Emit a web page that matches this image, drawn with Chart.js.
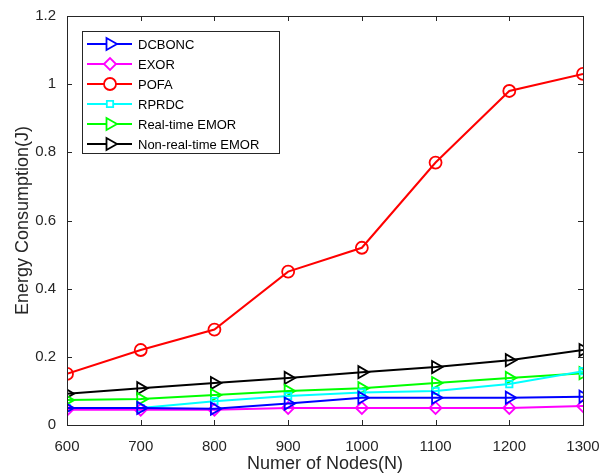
<!DOCTYPE html>
<html>
<head>
<meta charset="utf-8">
<script src="https://cdn.jsdelivr.net/npm/chart.js@4.4.1/dist/chart.umd.min.js"></script>
<style>
  html, body { margin: 0; padding: 0; background: #fff; }
  #wrap { position: relative; width: 601px; height: 475px; }
</style>
</head>
<body>
<div id="wrap"><canvas id="line-chart"></canvas></div>
<script>
const nodes = [600, 700, 800, 900, 1000, 1100, 1200, 1300];
const dcbonc = [0.05, 0.05, 0.048, 0.063, 0.08, 0.08, 0.08, 0.083];
const exor = [0.045, 0.045, 0.045, 0.05, 0.05, 0.05, 0.05, 0.056];
const pofa = [0.15, 0.22, 0.28, 0.45, 0.52, 0.77, 0.98, 1.03];
const rprdc = [0.05, 0.05, 0.07, 0.085, 0.095, 0.1, 0.12, 0.158];
const realTime = [0.073, 0.076, 0.088, 0.1, 0.108, 0.123, 0.138, 0.152];
const nonRealTime = [0.092, 0.108, 0.123, 0.138, 0.155, 0.17, 0.19, 0.22];
const yTicks = [0, 0.2, 0.4, 0.6, 0.8, 1, 1.2];

const FONT = 'Liberation Sans, Arial, sans-serif';
const AXIS = '#262626';

function series(label, values, color, style, radius, rotation) {
  return {
    label: label,
    data: nodes.map((n, i) => ({ x: n, y: values[i] })),
    borderColor: color,
    backgroundColor: color,
    borderWidth: 2,
    pointStyle: style,
    pointRadius: radius,
    pointRotation: rotation || 0,
    pointBorderWidth: 1.8,
    pointBackgroundColor: 'rgba(0,0,0,0)',
    pointBorderColor: color,
    fill: false,
    tension: 0,
  };
}

const datasets = [
  series('DCBONC', dcbonc, '#0000ff', 'triangle', 7, 90),
  series('EXOR', exor, '#ff00ff', 'rectRot', 6),
  series('POFA', pofa, '#ff0000', 'circle', 6),
  series('RPRDC', rprdc, '#00ffff', 'rect', 4.5),
  series('Real-time EMOR', realTime, '#00ff00', 'triangle', 7, 90),
  series('Non-real-time EMOR', nonRealTime, '#000000', 'triangle', 7, 90),
];

// box, inward ticks and legend drawn MATLAB-style
const framePlugin = {
  id: 'frame',
  afterDraw(chart) {
    const { ctx, chartArea: a, scales } = chart;
    ctx.save();
    ctx.strokeStyle = AXIS;
    ctx.lineWidth = 1;
    ctx.strokeRect(a.left + 0.5, a.top + 0.5, a.right - a.left, a.bottom - a.top);
    ctx.beginPath();
    nodes.forEach((n) => {
      const x = Math.round(scales.x.getPixelForValue(n)) + 0.5;
      ctx.moveTo(x, a.bottom); ctx.lineTo(x, a.bottom - 5);
      ctx.moveTo(x, a.top); ctx.lineTo(x, a.top + 5);
    });
    yTicks.forEach((v) => {
      const y = Math.round(scales.y.getPixelForValue(v)) + 0.5;
      ctx.moveTo(a.left, y); ctx.lineTo(a.left + 5, y);
      ctx.moveTo(a.right, y); ctx.lineTo(a.right - 5, y);
    });
    ctx.stroke();

    // legend
    const bx = 82, by = 31, bw = 197, bh = 122;
    ctx.fillStyle = '#fff';
    ctx.fillRect(bx, by, bw, bh);
    ctx.strokeStyle = AXIS;
    ctx.strokeRect(bx + 0.5, by + 0.5, bw, bh);
    ctx.font = '13px ' + FONT;
    ctx.textBaseline = 'middle';
    chart.data.datasets.forEach((ds, i) => {
      const y = by + 13 + i * 20;
      ctx.strokeStyle = ds.borderColor;
      ctx.lineWidth = 2;
      ctx.beginPath();
      ctx.moveTo(bx + 5, y); ctx.lineTo(bx + 50, y);
      ctx.stroke();
      ctx.lineWidth = 1.8;
      ctx.fillStyle = '#fff';
      Chart.helpers.drawPoint(ctx, {
        pointStyle: ds.pointStyle,
        rotation: ds.pointRotation,
        radius: ds.pointRadius,
        borderWidth: 1.8,
      }, bx + 28, y);
      ctx.fillStyle = '#000';
      ctx.fillText(ds.label, bx + 56, y + 1);
    });
    ctx.restore();
  },
};

const config = {
  type: 'line',
  data: { datasets: datasets },
  options: {
    responsive: false,
    animation: false,
    layout: { padding: { top: 16, right: 18, left: 0, bottom: 0 } },
    plugins: {
      legend: { display: false },
      tooltip: { enabled: false },
    },
    scales: {
      x: {
        type: 'linear',
        min: 600,
        max: 1300,
        afterBuildTicks: (s) => { s.ticks = nodes.map((v) => ({ value: v })); },
        afterFit: (s) => { s.height = 50; s.paddingLeft = 0; s.paddingRight = 0; },
        grid: { display: false },
        border: { display: false },
        ticks: {
          color: AXIS,
          font: { family: FONT, size: 15 },
          padding: 5,
          maxRotation: 0,
          callback: (v) => String(v),
        },
        title: {
          display: true,
          text: 'Numer of Nodes(N)',
          color: AXIS,
          font: { family: FONT, size: 18 },
          padding: { top: 0, bottom: 0 },
        },
      },
      y: {
        min: 0,
        max: 1.2,
        afterBuildTicks: (s) => { s.ticks = yTicks.map((v) => ({ value: v })); },
        afterFit: (s) => { s.width = 67; s.paddingTop = 0; s.paddingBottom = 0; },
        grid: { display: false },
        border: { display: false },
        ticks: {
          color: AXIS,
          font: { family: FONT, size: 15 },
          padding: 3,
          callback: (v) => String(+v.toFixed(1)),
        },
        title: {
          display: true,
          text: 'Energy Consumption(J)',
          color: AXIS,
          font: { family: FONT, size: 18 },
          padding: { top: 12, bottom: 0 },
        },
      },
    },
  },
  plugins: [framePlugin],
};

const canvas = document.getElementById('line-chart');
canvas.width = 601;
canvas.height = 475;
new Chart(canvas.getContext('2d'), config);
</script>
</body>
</html>
